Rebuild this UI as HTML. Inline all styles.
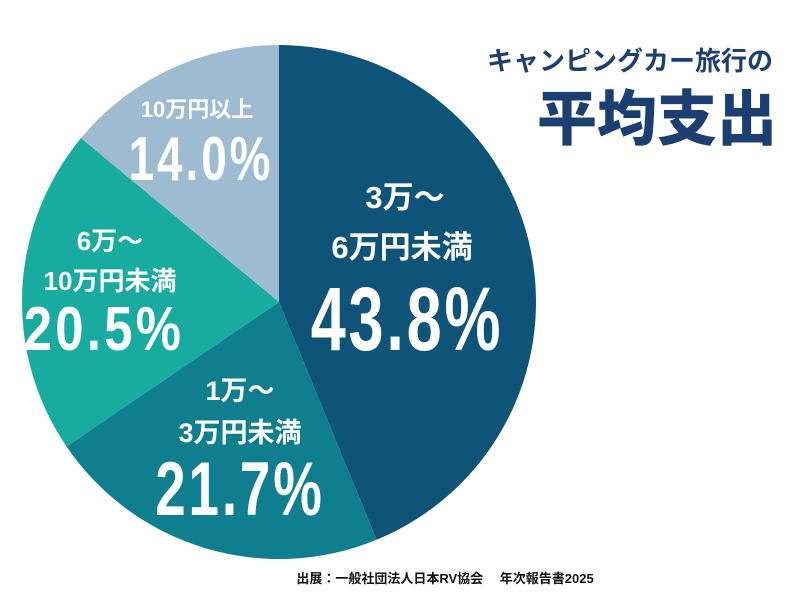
<!DOCTYPE html>
<html><head><meta charset="utf-8">
<style>
body{margin:0;background:#fff;width:798px;height:601px;overflow:hidden}
svg{display:block}
.j{font-family:"Liberation Sans","Noto Sans CJK JP",sans-serif;font-weight:bold;fill:#fff}
.p{font-family:"Liberation Sans",sans-serif;font-weight:bold;fill:#fff;letter-spacing:4px}
</style></head><body>
<svg id="chart" width="798" height="601" viewBox="0 0 798 601">
<g id="slices"></g>
<g>
<text class="j" x="405" y="208" font-size="31" text-anchor="middle">3万～</text>
<text class="j" x="402" y="258" font-size="31" text-anchor="middle">6万円未満</text>
<text class="p" transform="translate(407,350) scale(0.70,1)" x="0" y="0" font-size="90" text-anchor="middle">43.8%</text>
<text class="j" x="240" y="400" font-size="27" text-anchor="middle">1万～</text>
<text class="j" x="240" y="442" font-size="27" text-anchor="middle">3万円未満</text>
<text class="p" transform="translate(240,515) scale(0.72,1)" x="0" y="0" font-size="76" text-anchor="middle">21.7%</text>
<text class="j" x="110" y="250" font-size="26" text-anchor="middle">6万～</text>
<text class="j" x="110" y="290" font-size="26" text-anchor="middle">10万円未満</text>
<text class="p" transform="translate(104,350) scale(0.82,1)" x="0" y="0" font-size="62" text-anchor="middle">20.5%</text>
<text class="j" x="197" y="117" font-size="22" text-anchor="middle">10万円以上</text>
<text class="p" transform="translate(201,180) scale(0.74,1)" x="0" y="0" font-size="62" text-anchor="middle">14.0%</text>
</g>
<text x="630" y="70" font-size="26" text-anchor="middle" font-family="Liberation Sans,Noto Sans CJK JP,sans-serif" font-weight="bold" fill="#1b3f73">キャンピングカー旅行の</text>
<text x="657" y="140" font-size="60" text-anchor="middle" font-family="Liberation Sans,Noto Sans CJK JP,sans-serif" font-weight="900" fill="#1b3f73">平均支出</text>
<text x="445" y="583" font-size="13" text-anchor="middle" font-family="Liberation Sans,Noto Sans CJK JP,sans-serif" font-weight="bold" fill="#111">出展：一般社団法人日本RV協会　 年次報告書2025</text>
</svg>
<script>
const categories=["3万～6万円未満","1万～3万円未満","6万～10万円未満","10万円以上"];
const values=[43.8,21.7,20.5,14.0];
const colors=["#0d5478","#0f7f8f","#18ab9f","#9dbbd1"];
const cx=279,cy=302,r=257;
const g=document.getElementById('slices');
const total=values.reduce((a,b)=>a+b,0);
let a0=0;
function pt(a){return [cx+r*Math.sin(a),cy-r*Math.cos(a)];}
values.forEach((v,i)=>{
  const a1=a0+v/total*2*Math.PI;
  const [x0,y0]=pt(a0),[x1,y1]=pt(a1);
  const p=document.createElementNS('http://www.w3.org/2000/svg','path');
  p.setAttribute('d',`M${cx},${cy}L${x0},${y0}A${r},${r} 0 ${a1-a0>Math.PI?1:0} 1 ${x1},${y1}Z`);
  p.setAttribute('fill',colors[i]);
  
  
  g.appendChild(p);
  a0=a1;
});
</script>
</body></html>
